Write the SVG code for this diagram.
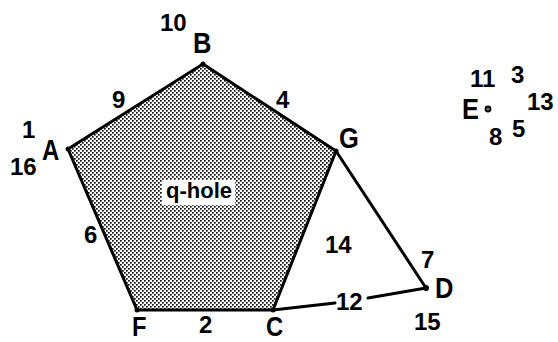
<svg xmlns="http://www.w3.org/2000/svg" width="558" height="342" viewBox="0 0 558 342">
<defs>
<pattern id="dots" width="4" height="4" patternUnits="userSpaceOnUse">
<rect width="4" height="4" fill="#ffffff"/>
<rect x="0" y="0" width="1.7" height="1.7" fill="#111"/>
<rect x="2" y="2" width="1.7" height="1.7" fill="#111"/>
</pattern>
<style>
.t{font-family:"Liberation Sans",Arial,sans-serif;font-weight:bold;fill:#000;}
.n{font-size:24px;}
.v{font-size:30px;}
.e{stroke:#000;stroke-width:3;fill:none;stroke-linecap:round;}
.p{fill:#000;}
</style>
</defs>
<rect width="558" height="342" fill="#fff"/>
<g id="hole">
<polygon points="203,64 336,151 273,310 137,310 68,149" fill="url(#dots)" stroke="#000" stroke-width="3" stroke-linejoin="round"/>
<rect x="162" y="180" width="73" height="25" fill="#fff"/>
<text class="t" x="166" y="198" font-size="22">q-hole</text>
</g>
<g id="connectors">
<line class="e" x1="336" y1="151" x2="426" y2="288"/>
<line class="e" x1="273" y1="310" x2="335" y2="303" stroke-width="2.5"/>
<line class="e" x1="368" y1="298" x2="426" y2="288" stroke-width="2.5"/>
</g>
<g id="A"><circle class="p" cx="68" cy="149" r="2.5"/><text class="t v" transform="translate(42,160) scale(0.8,1)">A</text><text class="t n" x="22" y="138">1</text><text class="t n" x="10" y="175">16</text></g>
<g id="B"><circle class="p" cx="203" cy="64" r="2.5"/><text class="t v" transform="translate(193,53) scale(0.85,1)">B</text><text class="t n" x="160" y="31">10</text></g>
<g id="G"><circle class="p" cx="336" cy="151" r="2.5"/><text class="t v" transform="translate(339,148) scale(0.85,1)">G</text></g>
<g id="F"><circle class="p" cx="137" cy="310" r="2.5"/><text class="t" font-size="27" transform="translate(132,336) scale(0.88,1)">F</text></g>
<g id="C"><circle class="p" cx="273" cy="310" r="2.5"/><text class="t" font-size="27" transform="translate(266,336) scale(0.88,1)">C</text></g>
<g id="D"><circle class="p" cx="426" cy="288" r="3"/><text class="t v" transform="translate(435,298) scale(0.85,1)">D</text><text class="t n" x="414" y="330">15</text><text class="t n" x="421" y="268">7</text></g>
<g id="E"><circle cx="488" cy="109" r="2.5" fill="#777" stroke="#000" stroke-width="1.8"/><text class="t v" transform="translate(462,119) scale(0.85,1)">E</text><text class="t n" x="470" y="87">11</text><text class="t n" x="511" y="83">3</text><text class="t n" x="527" y="110">13</text><text class="t n" x="512" y="137">5</text><text class="t n" x="489" y="145">8</text></g>
<g id="labels">
<text class="t n" x="112" y="108">9</text>
<text class="t n" x="276" y="108">4</text>
<text class="t n" x="84" y="243">6</text>
<text class="t n" x="199" y="333">2</text>
<text class="t n" x="325" y="253">14</text>
<text class="t n" x="336" y="310">12</text>
</g>
</svg>
